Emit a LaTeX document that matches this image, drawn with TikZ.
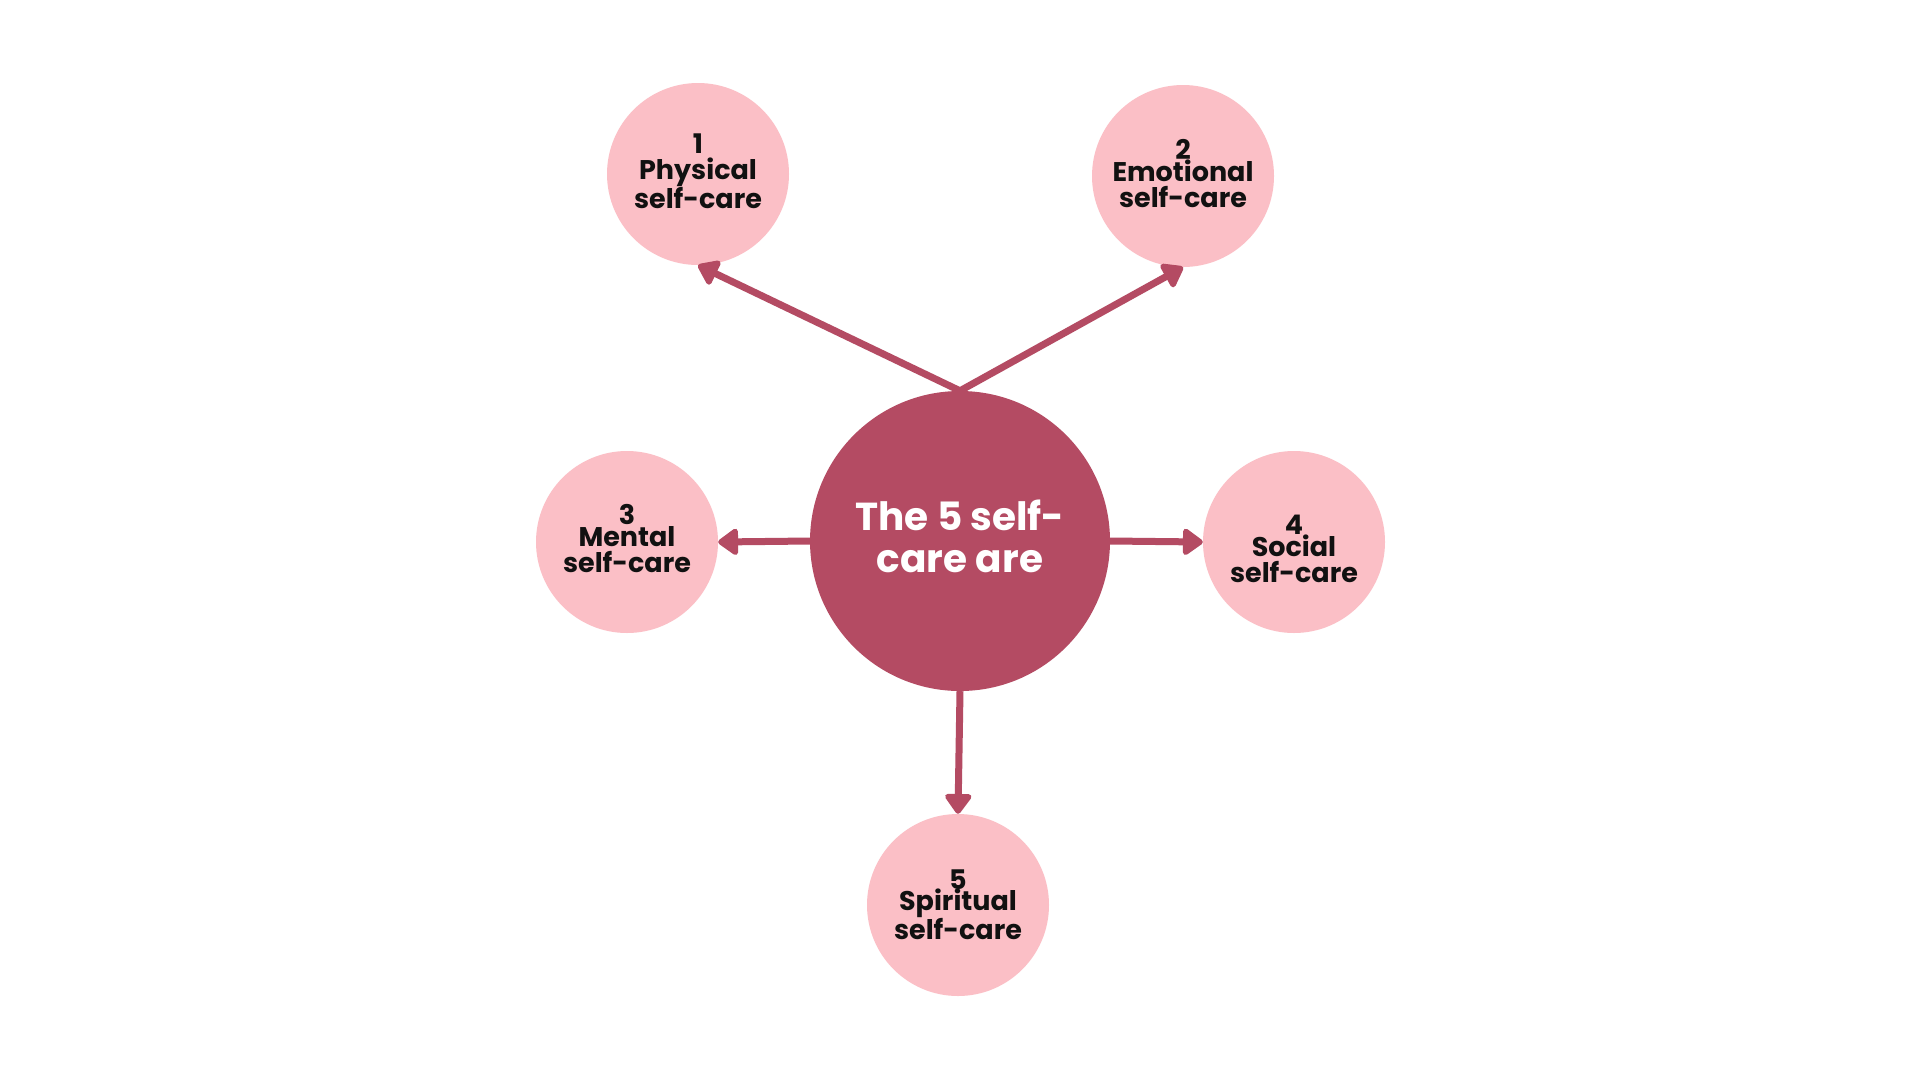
\documentclass[tikz,border=0pt]{standalone}
\usepackage{fontspec}
\setmainfont{Poppins}
\usetikzlibrary{arrows.meta}
\definecolor{plum}{HTML}{B44B63}
\definecolor{blush}{HTML}{FBBFC6}
\definecolor{ink}{HTML}{111111}
\begin{document}
\begin{tikzpicture}[x=1pt,y=-1pt,
  small/.style={circle,fill=blush,minimum size=182pt,inner sep=0pt},
  txt/.style={align=center,inner sep=0pt,font=\bfseries\fontsize{27}{26}\selectfont,text=ink},
  hub/.style={circle,fill=plum,minimum size=300pt,inner sep=0pt},
  hubtxt/.style={align=center,inner sep=0pt,font=\bfseries\fontsize{39}{42}\selectfont,text=white},
  conn/.style={draw=plum,line width=7pt,-{Triangle[width=30pt,length=22pt,round]}}]
\useasboundingbox[fill=white] (0,0) rectangle (1920,1080);
\node[hub,label={[hubtxt,yshift=5pt]center:{The 5 self-\\care are}}] (c) at (960,541) {};
\node[small,label={[txt,yshift=3pt]center:{1\\Physical\\self-care}}] (p1) at (698,174) {};
\node[small,label={[txt,yshift=2pt]center:{2\\[-4pt]Emotional\\self-care}}] (p2) at (1183,176) {};
\node[small,label={[txt,yshift=3pt]center:{3\\[-4pt]Mental\\self-care}}] (p3) at (627,542) {};
\node[small,label={[txt,yshift=-7pt]center:{4\\[-4pt]Social\\self-care}}] (p4) at (1294,542) {};
\node[small,label={[txt]center:{5\\[-5pt]Spiritual\\self-care}}] (p5) at (958,905) {};
\draw[conn] (c.north) -- (p1.south);
\draw[conn] (c.north) -- (p2.south);
\draw[conn] (c.west) -- (p3.east);
\draw[conn] (c.east) -- (p4.west);
\draw[conn] (c.south) -- (p5.north);
\end{tikzpicture}
\end{document}
